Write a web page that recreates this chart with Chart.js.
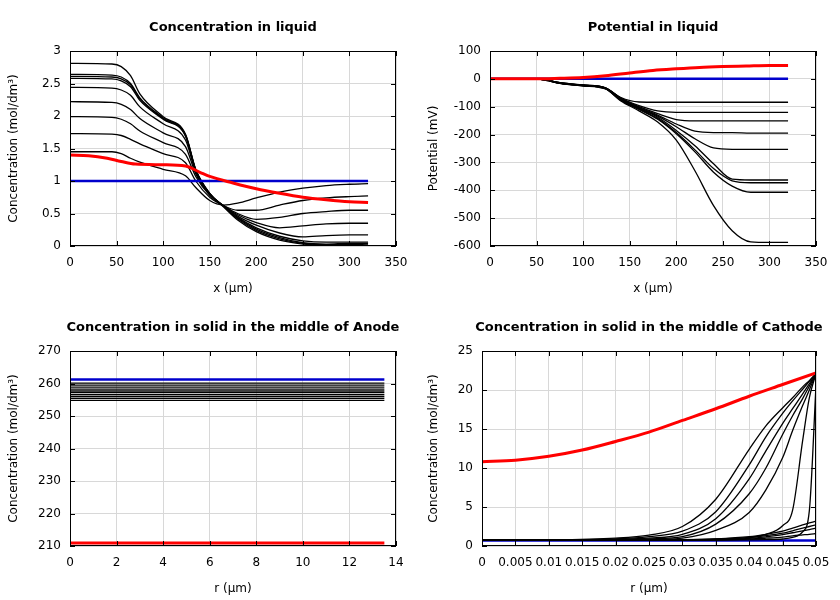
<!DOCTYPE html>
<html>
<head>
<meta charset="utf-8">
<script src="https://cdn.jsdelivr.net/npm/chart.js@4/dist/chart.umd.min.js"></script>
<style>
  html, body { margin: 0; padding: 0; background: #fff; }
  #wrap { position: relative; width: 840px; height: 600px; }
  .cell { position: absolute; width: 420px; height: 300px; }
</style>
</head>
<body>
<div id="wrap">
  <div class="cell" style="left:0;top:0"><canvas id="liqConc" width="420" height="300"></canvas></div>
  <div class="cell" style="left:420px;top:0"><canvas id="liqPot" width="420" height="300"></canvas></div>
  <div class="cell" style="left:0;top:300px"><canvas id="anode" width="420" height="300"></canvas></div>
  <div class="cell" style="left:420px;top:300px"><canvas id="cathode" width="420" height="300"></canvas></div>
</div>
<script>
// --- Concentration in liquid (x in um) ---
const concX = [0, 45, 55, 65, 75, 100, 124, 135, 150, 165, 180, 200, 225, 250, 275, 300, 320];
const concCurves = [
  [1.45, 1.45, 1.42, 1.35, 1.29, 1.18, 1.08, 0.90, 0.70, 0.63, 0.66, 0.74, 0.83, 0.89, 0.93, 0.95, 0.96],
  [1.73, 1.72, 1.70, 1.64, 1.57, 1.42, 1.28, 1.00, 0.75, 0.62, 0.55, 0.55, 0.63, 0.70, 0.74, 0.76, 0.77],
  [1.99, 1.98, 1.95, 1.88, 1.77, 1.59, 1.41, 1.07, 0.78, 0.62, 0.50, 0.41, 0.44, 0.50, 0.53, 0.55, 0.55],
  [2.22, 2.21, 2.18, 2.10, 1.96, 1.74, 1.53, 1.11, 0.79, 0.62, 0.48, 0.36, 0.28, 0.31, 0.34, 0.35, 0.35],
  [2.44, 2.43, 2.40, 2.32, 2.14, 1.88, 1.63, 1.14, 0.80, 0.62, 0.46, 0.32, 0.20, 0.14, 0.16, 0.17, 0.17],
  [2.58, 2.57, 2.54, 2.45, 2.24, 1.95, 1.69, 1.16, 0.80, 0.61, 0.44, 0.28, 0.15, 0.08, 0.06, 0.06, 0.06],
  [2.61, 2.60, 2.57, 2.48, 2.26, 1.96, 1.70, 1.17, 0.80, 0.61, 0.43, 0.26, 0.13, 0.05, 0.03, 0.04, 0.04],
  [2.64, 2.63, 2.60, 2.50, 2.28, 1.97, 1.71, 1.17, 0.81, 0.61, 0.42, 0.24, 0.11, 0.04, 0.02, 0.02, 0.03],
  [2.81, 2.80, 2.76, 2.62, 2.34, 1.99, 1.72, 1.18, 0.81, 0.60, 0.40, 0.22, 0.09, 0.03, 0.01, 0.00, 0.01]
];
const concInitX = [0, 320];
const concInit = [1, 1];
const concRedX = [0, 20, 40, 55, 70, 100, 124, 140, 150, 175, 200, 225, 250, 275, 300, 320];
const concRed = [1.40, 1.39, 1.35, 1.30, 1.26, 1.25, 1.23, 1.13, 1.07, 0.97, 0.88, 0.81, 0.75, 0.71, 0.68, 0.67];

// --- Potential in liquid (mV) ---
const potX = [0, 50, 60, 75, 100, 124, 140, 160, 180, 200, 220, 240, 260, 280, 300, 320];
const potCurves = [
  [0, -1, -4, -14, -22, -32, -66, -83, -84, -84, -84, -84, -84, -84, -84, -84],
  [0, -1, -4, -14, -22, -32, -68, -96, -115, -120, -120, -120, -120, -120, -120, -120],
  [0, -1, -4, -14, -23, -33, -69, -100, -125, -146, -151, -151, -151, -151, -151, -151],
  [0, -1, -4, -15, -23, -33, -70, -102, -130, -162, -188, -193, -193, -195, -195, -195],
  [0, -1, -4, -15, -24, -34, -72, -104, -134, -172, -215, -248, -253, -253, -253, -253],
  [0, -1, -4, -15, -24, -34, -74, -106, -138, -185, -240, -305, -360, -363, -363, -363],
  [0, -1, -4, -15, -24, -35, -75, -108, -142, -193, -255, -322, -366, -373, -373, -373],
  [0, -1, -5, -16, -25, -35, -76, -110, -145, -197, -262, -335, -385, -407, -407, -407],
  [0, -1, -5, -16, -25, -36, -78, -115, -155, -220, -330, -455, -545, -585, -587, -587]
];
const potInitX = [0, 320];
const potInit = [0, 0];
const potRedX = [0, 50, 75, 100, 124, 150, 175, 200, 225, 250, 275, 300, 320];
const potRed = [0, 0, 2, 5, 11, 21, 30, 36, 41, 44, 46, 48, 48];

// --- Solid, anode middle (r in um) ---
const anodeR = [0, 13.5];
const anodeLevels = [260.1, 259.5, 258.9, 258.3, 257.7, 257.2, 256.6, 256.0, 255.4, 254.8];
const anodeInit = 261.2;
const anodeRed = 210.9;

// --- Solid, cathode middle ---
const cathR = [0, 0.01, 0.02, 0.025, 0.03, 0.035, 0.04, 0.0425, 0.045, 0.0465, 0.048, 0.049, 0.05];
const cathCurves = [
  [0.75, 0.78, 1.0, 1.4, 2.5, 6.0, 12.4, 15.4, 17.7, 19.0, 20.4, 21.2, 22.1],
  [0.75, 0.76, 0.9, 1.2, 1.9, 4.4, 10.4, 14.0, 17.0, 18.6, 20.1, 21.1, 22.1],
  [0.75, 0.75, 0.85, 1.0, 1.5, 3.5, 8.6, 12.2, 15.7, 17.6, 19.5, 20.8, 22.1],
  [0.75, 0.75, 0.8, 0.9, 1.2, 2.8, 6.7, 10.0, 14.3, 16.7, 18.9, 20.5, 22.1],
  [0.75, 0.75, 0.75, 0.8, 1.0, 2.0, 4.3, 7.2, 11.3, 14.8, 18.0, 20.0, 22.1],
  [0.75, 0.75, 0.75, 0.75, 0.8, 0.9, 1.1, 1.5, 2.6, 4.6, 13.5, 19.0, 22.1],
  [0.75, 0.75, 0.75, 0.75, 0.75, 0.76, 0.78, 0.82, 0.9, 1.1, 1.8, 4.5, 20.6],
  [0.75, 0.75, 0.75, 0.76, 0.8, 0.92, 1.2, 1.5, 1.9, 2.3, 2.7, 2.95, 3.2],
  [0.75, 0.75, 0.75, 0.75, 0.78, 0.86, 1.08, 1.32, 1.65, 1.95, 2.3, 2.5, 2.7],
  [0.75, 0.75, 0.75, 0.75, 0.76, 0.8, 0.98, 1.18, 1.45, 1.7, 1.95, 2.1, 2.3],
  [0.75, 0.75, 0.75, 0.75, 0.75, 0.77, 0.88, 1.0, 1.15, 1.3, 1.42, 1.5, 1.6]
];
const cathInitR = [0, 0.05];
const cathInit = [0.7, 0.7];
const cathRedR = [0, 0.005, 0.01, 0.015, 0.02, 0.025, 0.03, 0.035, 0.04, 0.045, 0.05];
const cathRed = [10.8, 11.0, 11.5, 12.3, 13.4, 14.6, 16.1, 17.6, 19.2, 20.7, 22.2];

Chart.defaults.font.family = '"DejaVu Sans", sans-serif';
Chart.defaults.font.size = 12;
Chart.defaults.color = '#000';

const BLUE = '#0000cc';
const RED = '#ff0000';
const fmt = v => String(Math.round(v * 10000) / 10000);

// frame, inward ticks on all four sides and the title
const boxPlugin = {
  id: 'box',
  afterDraw(chart, args, opts) {
    const { ctx, chartArea: a } = chart;
    const sx = chart.scales.x, sy = chart.scales.y;
    ctx.save();
    ctx.strokeStyle = '#000';
    ctx.lineWidth = 1;
    ctx.beginPath();
    sx.ticks.forEach((t, i) => {
      const p = Math.round(sx.getPixelForTick(i)) + 0.5;
      ctx.moveTo(p, a.bottom); ctx.lineTo(p, a.bottom - 5);
      ctx.moveTo(p, a.top); ctx.lineTo(p, a.top + 5);
    });
    sy.ticks.forEach((t, i) => {
      const p = Math.round(sy.getPixelForTick(i)) + 0.5;
      ctx.moveTo(a.left, p); ctx.lineTo(a.left + 5, p);
      ctx.moveTo(a.right, p); ctx.lineTo(a.right - 5, p);
    });
    ctx.stroke();
    ctx.strokeRect(Math.round(a.left) + 0.5, Math.round(a.top) + 0.5, Math.round(a.width) - 1, Math.round(a.height) - 1);
    ctx.fillStyle = '#000';
    ctx.font = 'bold 13px "DejaVu Sans"';
    ctx.textAlign = 'center';
    ctx.textBaseline = 'middle';
    ctx.fillText(opts.text, (a.left + a.right) / 2, 28);
    ctx.restore();
  }
};

function line(xs, ys, color, width, order) {
  return {
    data: xs.map((x, i) => ({ x: x, y: ys[i] })),
    borderColor: color,
    borderWidth: width,
    order: order,
    fill: false
  };
}

function plot(id, title, leftW, xs, ys, xTitle, yTitle, datasets) {
  new Chart(document.getElementById(id), {
    type: 'line',
    data: { datasets: datasets },
    options: {
      responsive: false,
      animation: false,
      layout: { padding: { top: 51, right: 24, left: 0, bottom: 0 } },
      plugins: { legend: { display: false }, tooltip: { enabled: false }, box: { text: title } },
      elements: { point: { radius: 0 }, line: { cubicInterpolationMode: 'monotone' } },
      scales: {
        x: {
          type: 'linear', min: xs[0], max: xs[1],
          grid: { color: '#d8d8d8', drawTicks: false },
          border: { display: false },
          ticks: { stepSize: xs[2], padding: 10, autoSkip: false, maxRotation: 0, minRotation: 0, callback: fmt },
          title: { display: true, text: xTitle, padding: { top: 4, bottom: 4 } },
          afterFit: s => { s.height = 54; }
        },
        y: {
          type: 'linear', min: ys[0], max: ys[1],
          grid: { color: '#d8d8d8', drawTicks: false },
          border: { display: false },
          ticks: { stepSize: ys[2], padding: 9, callback: fmt },
          title: { display: true, text: yTitle, padding: { top: 7, bottom: 7 } },
          afterFit: s => { s.width = leftW; }
        }
      }
    },
    plugins: [boxPlugin]
  });
}

const concLabel = 'Concentration (mol/dm\u00b3)';

plot('liqConc', 'Concentration in liquid', 70, [0, 350, 50], [0, 3, 0.5], 'x (\u00b5m)', concLabel, [
  line(concRedX, concRed, RED, 3, 0),
  line(concInitX, concInit, BLUE, 2.5, 1),
  ...concCurves.map(c => line(concX, c, '#000', 1.3, 2))
]);

plot('liqPot', 'Potential in liquid', 70, [0, 350, 50], [-600, 100, 100], 'x (\u00b5m)', 'Potential (mV)', [
  line(potRedX, potRed, RED, 3, 0),
  line(potInitX, potInit, BLUE, 2.5, 1),
  ...potCurves.map(c => line(potX, c, '#000', 1.3, 2))
]);

plot('anode', 'Concentration in solid in the middle of Anode', 70, [0, 14, 2], [210, 270, 10], 'r (\u00b5m)', concLabel, [
  line(anodeR, [anodeRed, anodeRed], RED, 3, 0),
  line(anodeR, [anodeInit, anodeInit], BLUE, 2.5, 1),
  ...anodeLevels.map(v => line(anodeR, [v, v], '#000', 1.3, 2))
]);

plot('cathode', 'Concentration in solid in the middle of Cathode', 62, [0, 0.05, 0.005], [0, 25, 5], 'r (\u00b5m)', concLabel, [
  line(cathRedR, cathRed, RED, 3, 0),
  ...cathCurves.map(c => line(cathR, c, '#000', 1.3, 2)),
  line(cathInitR, cathInit, BLUE, 2.5, 3)
]);
</script>
</body>
</html>
